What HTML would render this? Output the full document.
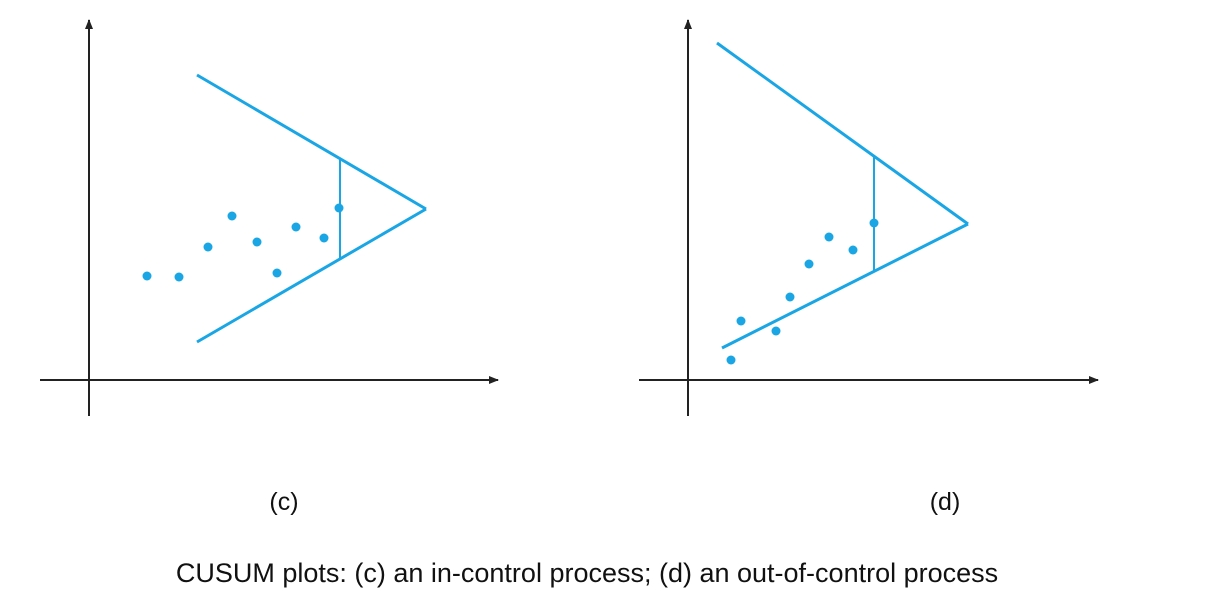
<!DOCTYPE html>
<html><head><meta charset="utf-8"><style>
html,body{margin:0;padding:0;background:#fff;}
svg{display:block;}
text{font-family:"Liberation Sans",sans-serif;fill:#111;}
</style></head><body>
<svg id="chart" width="1209" height="606" viewBox="0 0 1209 606">
<defs><marker id="ah" markerWidth="10" markerHeight="8" refX="9" refY="4" orient="auto" markerUnits="userSpaceOnUse"><path d="M0,0 L10,4 L0,8 z" fill="#222"/></marker></defs>
<text x="284" y="510" font-size="25" text-anchor="middle">(c)</text>
<text x="945" y="510" font-size="25" text-anchor="middle">(d)</text>
<text x="587" y="582" font-size="27" text-anchor="middle">CUSUM plots: (c) an in-control process; (d) an out-of-control process</text>
</svg>
<script>
// Panel c data (units relative to axis origin)
const cPointsX=[58,90,119,143,168,188,207,235,250];
const cPointsY=[104,103,133,164,138,107,153,142,172];
const cMaskTop=[108,305,337,171];   // x0,y0,vertex x,vertex y
const cMaskBot=[108,38];
const cCutX=[251,221,122];
// Panel d data
const dPointsX=[43,53,88,102,121,141,165,186];
const dPointsY=[20,59,49,83,116,143,130,157];
const dMaskTop=[29,337,280,156];
const dMaskBot=[34,32];
const dCutX=[186,223,108];

const NS="http://www.w3.org/2000/svg";
const svg=document.getElementById('chart');
const blue="#1aa6e4";
function mk(tag,attrs){const e=document.createElementNS(NS,tag);for(const k in attrs)e.setAttribute(k,attrs[k]);svg.appendChild(e);return e;}
function panel(name,ox,oy,px,py,top,bot,cut,xEnd){
  const sx=v=>ox+v, sy=v=>oy-v;
  let a=mk('line',{x1:ox,y1:416,x2:ox,y2:20,stroke:'#222','stroke-width':2,'marker-end':'url(#ah)'});
  
  
  a=mk('line',{x1:ox-49,y1:oy,x2:xEnd,y2:oy,stroke:'#222','stroke-width':2,'marker-end':'url(#ah)'});
  
  
  let l=mk('line',{x1:sx(top[0]),y1:sy(top[1]),x2:sx(top[2]),y2:sy(top[3]),stroke:blue,'stroke-width':3});
  
  
  l=mk('line',{x1:sx(bot[0]),y1:sy(bot[1]),x2:sx(top[2]),y2:sy(top[3]),stroke:blue,'stroke-width':3});
  
  
  l=mk('line',{x1:sx(cut[0]),y1:sy(cut[1]),x2:sx(cut[0]),y2:sy(cut[2]),stroke:blue,'stroke-width':2});
  
  
  px.forEach((x,i)=>{
    const c=mk('circle',{cx:sx(x),cy:sy(py[i]),r:4.5,fill:blue});
    
    
  });
}
panel('panel-c',89,380,cPointsX,cPointsY,cMaskTop,cMaskBot,cCutX,498);
panel('panel-d',688,380,dPointsX,dPointsY,dMaskTop,dMaskBot,dCutX,1098);
</script>
</body></html>
